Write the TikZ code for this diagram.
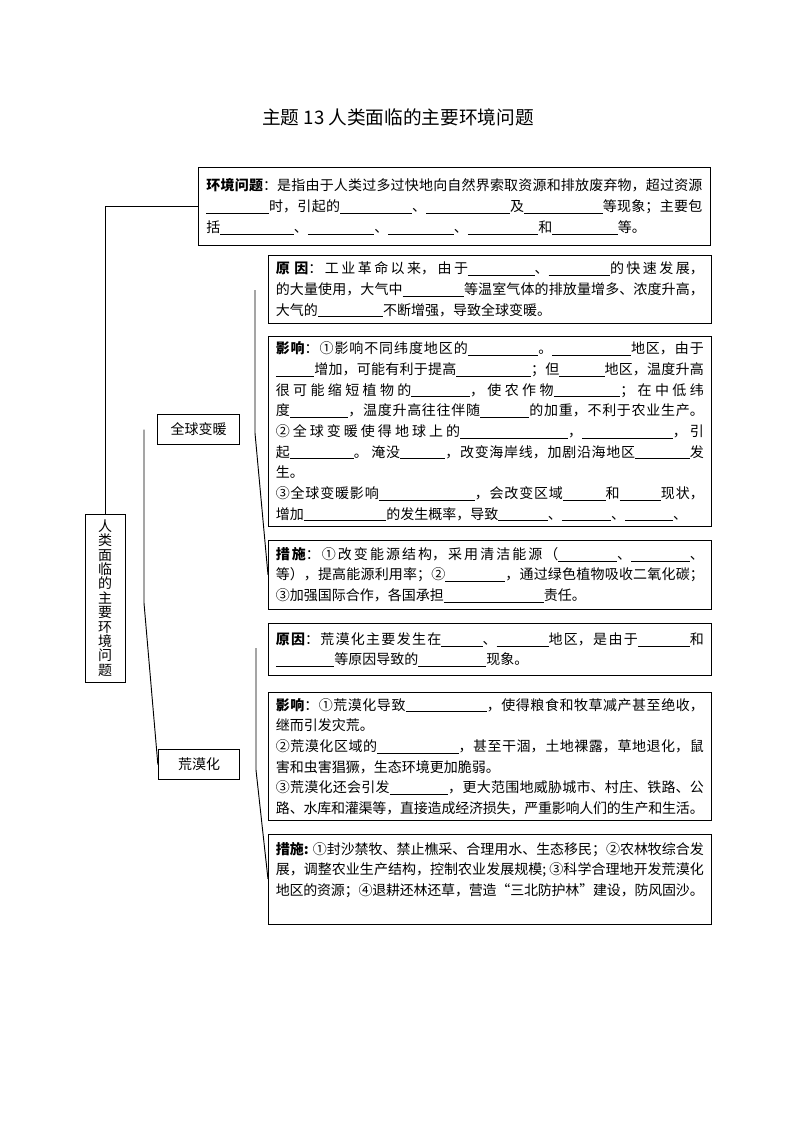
\documentclass[tikz,border=0pt]{standalone}
\usepackage{fontspec}
\setmainfont{Noto Sans CJK SC}
\usepackage{tikz}
\usetikzlibrary{positioning}
\XeTeXlinebreaklocale "zh"
\XeTeXlinebreakskip=0pt plus 2pt minus 1pt
\tolerance=9999
\newcommand\blank[1]{\rule[-1.5pt]{#1pt}{0.5pt}}

\begin{document}
\begin{tikzpicture}[
    x=0.75pt, y=-0.75pt,
    box/.style={rectangle, draw, line width=0.7pt, inner sep=3pt},
    textbox/.style={box, text width=321pt, inner xsep=5.5pt, align=justify, font=\fontsize{10.5pt}{15.5pt}\selectfont},
    topic/.style={box, minimum width=61pt, minimum height=22pt, font=\fontsize{10.5pt}{12pt}\selectfont},
    link/.style={line width=0.7pt}
]
\useasboundingbox (0,0) rectangle (794,1123);

\node[font=\fontsize{14pt}{16pt}\selectfont] (title) at (398,117) {主题 13 人类面临的主要环境问题};

\node[textbox, anchor=north west, text width=372pt, inner xsep=6pt, minimum height=58.5pt, font=\fontsize{10.5pt}{16pt}\selectfont] (env) at (198,167) {\textbf{环境问题}：是指由于人类过多过快地向自然界索取资源和排放废弃物，超过资源\linebreak
\blank{47}时，引起的\blank{54}、\blank{63}及\blank{59}等现象；主要包\linebreak
括\blank{55}、\blank{50}、\blank{49}、\blank{53}和\blank{49}等。};

\node[box, minimum width=30pt, minimum height=126pt, align=center, font=\fontsize{10.5pt}{10.8pt}\selectfont] (root) at (105,598) {人\\类\\面\\临\\的\\主\\要\\环\\境\\问\\题};
\node[topic] (warming) at (198.5,429.5) {全球变暖};
\node[topic] (desert) at (199,764.5) {荒漠化};

\node[textbox, anchor=north west, minimum height=51pt] (cause1) at (268,255) {\textbf{原 因}：工业革命以来，由于\blank{50}、\blank{46}的快速发展，\linebreak
的大量使用，大气中\blank{46}等温室气体的排放量增多、浓度升高，\linebreak
大气的\blank{49}不断增强，导致全球变暖。};
\node[textbox, below=9pt of cause1.south west, anchor=north west, minimum height=142.5pt] (effect1) {\textbf{影响}：①影响不同纬度地区的\blank{53}。\blank{59}地区，由于\linebreak
\blank{29}增加，可能有利于提高\blank{56}；但\blank{34}地区，温度升高\linebreak
很可能缩短植物的\blank{44}，使农作物\blank{50}；在中低纬\linebreak
度\blank{44}，温度升高往往伴随\blank{37}的加重，不利于农业生产。\linebreak
②全球变暖使得地球上的\blank{81}，\blank{68}，引\linebreak
起\blank{48}。 淹没\blank{34}，改变海岸线，加剧沿海地区\blank{41}发\linebreak
生。\\
③全球变暖影响\blank{72}，会改变区域\blank{32}和\blank{31}现状，\linebreak
增加\blank{62}的发生概率，导致\blank{37}、\blank{37}、\blank{36}、};
\node[textbox, below=9.75pt of effect1.south west, anchor=north west, minimum height=51.75pt] (measure1) {\textbf{措施}：①改变能源结构，采用清洁能源（\blank{44}、\blank{44}、\linebreak
等），提高能源利用率；②\blank{45}，通过绿色植物吸收二氧化碳；\linebreak
③加强国际合作，各国承担\blank{75}责任。};

\node[textbox, below=10pt of measure1.south west, anchor=north west, minimum height=39pt] (cause2) {\textbf{原因}：荒漠化主要发生在\blank{31}、\blank{39}地区，是由于\blank{39}和\linebreak
\blank{44}等原因导致的\blank{51}现象。};
\node[textbox, below=12pt of cause2.south west, anchor=north west, minimum height=96pt] (effect2) {\textbf{影响}：①荒漠化导致\blank{61}，使得粮食和牧草减产甚至绝收，\linebreak
继而引发灾荒。\\
②荒漠化区域的\blank{61}，甚至干涸，土地裸露，草地退化，鼠\linebreak
害和虫害猖獗，生态环境更加脆弱。\\
③荒漠化还会引发\blank{44}，更大范围地威胁城市、村庄、铁路、公\linebreak
路、水库和灌渠等，直接造成经济损失，严重影响人们的生产和生活。};
\node[textbox, below=9.5pt of effect2.south west, anchor=north west, minimum height=67.5pt] (measure2) {\textbf{措施:} ①封沙禁牧、禁止樵采、合理用水、生态移民；②农林牧综合发\linebreak
展，调整农业生产结构，控制农业发展规模; ③科学合理地开发荒漠化\linebreak
地区的资源；④退耕还林还草，营造“三北防护林”建设，防风固沙。\linebreak
\mbox{}};

\coordinate (lbtop) at (144,429.5);
\coordinate (lbmid) at (144,603);
\coordinate (rbtop1) at (255,290);
\coordinate (rbmid1) at (255,433);
\coordinate (rbtop2) at (256,648);
\coordinate (rbmid2) at (256,770);

\draw[link] (env.west) -| (root.north);
\draw[link] (lbtop) -- (lbmid) -- (desert.west);
\draw[link] (rbtop1) -- (rbmid1) -- (measure1.west);
\draw[link] (rbtop2) -- (rbmid2) -- (measure2.west);
\end{tikzpicture}
\end{document}
